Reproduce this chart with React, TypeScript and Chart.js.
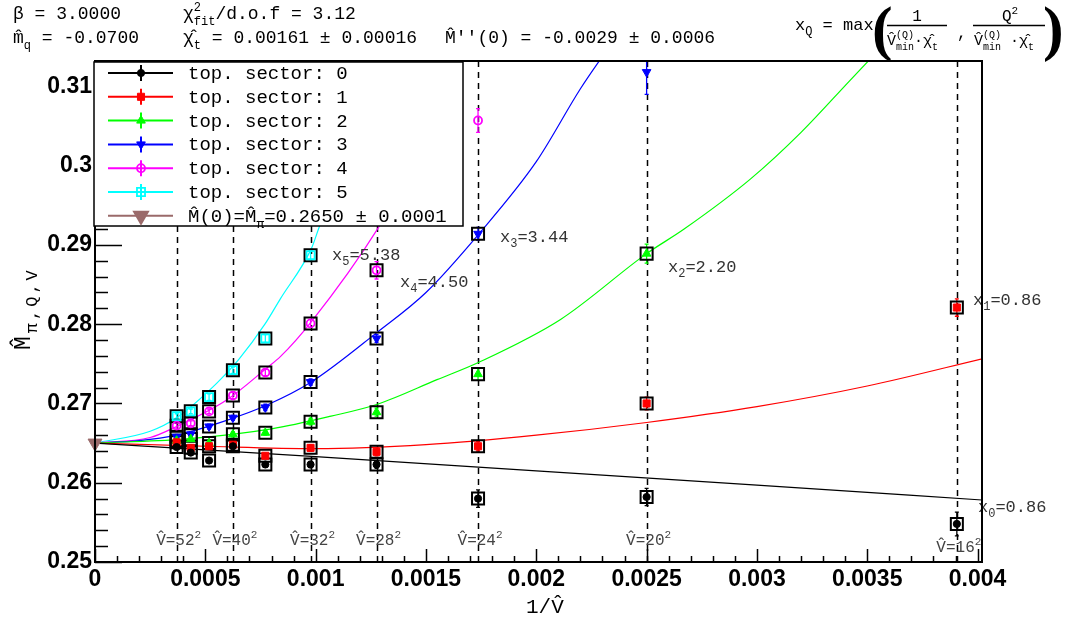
import React, { useEffect, useRef } from 'react';
import { Chart, registerables } from 'chart.js';
import { drawPoint } from 'chart.js/helpers';
Chart.register(...registerables);

// ---------------- data ----------------
const volumes = [52, 48, 44, 40, 36, 32, 28, 24, 20, 16];
const invVolume = [0.00037, 0.000434, 0.000517, 0.000625, 0.000772, 0.000977, 0.001276, 0.001736, 0.0025, 0.003906];
const dashedLabels = ['52', '40', '32', '28', '24', '20', '16'];
const dashedInvVolume = [0.00037, 0.000625, 0.000977, 0.001276, 0.001736, 0.0025, 0.003906];

const sector0 = [0.2645, 0.2638, 0.2628, 0.2646, 0.2623, 0.2623, 0.2623, 0.2580, 0.2582, 0.2548];
const sector1 = [0.2651, 0.2644, 0.2646, 0.2648, 0.2634, 0.2644, 0.2639, 0.2646, 0.2700, 0.2821];
const sector2 = [0.2653, 0.2655, 0.2650, 0.2661, 0.2663, 0.2677, 0.2689, 0.2737, 0.2889, null];
const sector3 = [0.2658, 0.2661, 0.2671, 0.2682, 0.2695, 0.2727, 0.2782, 0.2914, 0.3118, null];
const sector4 = [0.2672, 0.2675, 0.2690, 0.2710, 0.2739, 0.2801, 0.2868, 0.3057, null, null];
const sector5 = [0.2684, 0.2690, 0.2708, 0.2742, 0.2782, 0.2887, null, null, null, null];

const err0 = [0.0003, 0.0003, 0.0003, 0.0003, 0.0003, 0.0004, 0.0005, 0.0011, 0.0011, 0.0015];
const err1 = [0.0003, 0.0003, 0.0003, 0.0003, 0.0003, 0.0004, 0.0005, 0.0006, 0.0008, 0.0011];
const err2 = [0.0003, 0.0003, 0.0003, 0.0003, 0.0003, 0.0004, 0.0005, 0.0008, 0.0012, null];
const err3 = [0.0003, 0.0003, 0.0003, 0.0003, 0.0004, 0.0004, 0.0005, 0.0008, 0.0028, null];
const err4 = [0.0003, 0.0003, 0.0003, 0.0004, 0.0004, 0.0005, 0.0011, 0.0015, null, null];
const err5 = [0.0003, 0.0003, 0.0004, 0.0004, 0.0005, 0.0006, null, null, null, null];

const fit0 = [true, true, true, true, true, true, true, true, true, true];
const fit1 = [true, true, true, true, true, true, true, true, true, true];
const fit2 = [true, true, true, true, true, true, true, true, true, false];
const fit3 = [true, true, true, true, true, true, true, true, false, false];
const fit4 = [true, true, true, true, true, true, true, false, false, false];
const fit5 = [true, true, true, true, true, true, false, false, false, false];

const curve0X = [0, 0.001, 0.002, 0.003, 0.00403];
const curve0Y = [0.2650, 0.2633, 0.2615, 0.2597, 0.2578];
const curve1X = [0, 0.0005, 0.001, 0.0015, 0.002, 0.0025, 0.003, 0.0035, 0.00403];
const curve1Y = [0.2650, 0.2646, 0.2643, 0.2648, 0.2660, 0.2676, 0.2696, 0.2722, 0.2757];
const curve2X = [0, 0.0004, 0.0008, 0.00107, 0.00128, 0.00155, 0.00174, 0.00211, 0.0025, 0.00267, 0.00297, 0.0032, 0.00342, 0.0036];
const curve2Y = [0.2650, 0.2655, 0.2668, 0.2684, 0.2699, 0.2730, 0.2752, 0.2806, 0.2889, 0.2920, 0.2983, 0.3042, 0.3107, 0.3160];
const curve3X = [0, 0.0002, 0.00037, 0.0006, 0.00078, 0.00098, 0.00128, 0.0015, 0.00174, 0.002, 0.0022, 0.00233];
const curve3Y = [0.2650, 0.2653, 0.2660, 0.2679, 0.2698, 0.2727, 0.2790, 0.2840, 0.2914, 0.3005, 0.3097, 0.3150];
const curve4X = [0, 0.00025, 0.00037, 0.0006, 0.00078, 0.00084, 0.00098, 0.00128, 0.0015, 0.0017];
const curve4Y = [0.2650, 0.2657, 0.2671, 0.2705, 0.2745, 0.2759, 0.2803, 0.2920, 0.3030, 0.3152];
const curve5X = [0, 0.00025, 0.00037, 0.00055, 0.00065, 0.00077, 0.00084, 0.00098, 0.00102, 0.00115];
const curve5Y = [0.2650, 0.2665, 0.2682, 0.2725, 0.2755, 0.2800, 0.2832, 0.2895, 0.2925, 0.3000];

const massAtZero = 0.2650;

const xTicks = [0, 0.0005, 0.001, 0.0015, 0.002, 0.0025, 0.003, 0.0035, 0.004];
const xTickLabels = ['0', '0.0005', '0.001', '0.0015', '0.002', '0.0025', '0.003', '0.0035', '0.004'];
const yTicks = [0.25, 0.26, 0.27, 0.28, 0.29, 0.3, 0.31];
const yTickLabels = ['0.25', '0.26', '0.27', '0.28', '0.29', '0.3', '0.31'];

const legendLabels = ['top. sector: 0', 'top. sector: 1', 'top. sector: 2', 'top. sector: 3', 'top. sector: 4', 'top. sector: 5'];
const xQLabels = ['0.86', '0.86', '2.20', '3.44', '4.50', '5.38'];

// ---------------- styles ----------------
const MONO = '"Liberation Mono", "DejaVu Sans Mono", monospace';
const SANS = '"Liberation Sans", Arial, sans-serif';
const SERIF = '"Liberation Serif", "DejaVu Serif", serif';
const BROWN = '#9a6a6a';

const sectors = [
  { values: sector0, err: err0, fit: fit0, color: '#000000', style: 'circle', radius: 3.6, open: false, rotation: 0, curveX: curve0X, curveY: curve0Y },
  { values: sector1, err: err1, fit: fit1, color: '#ff0000', style: 'rect', radius: 5, open: false, rotation: 0, curveX: curve1X, curveY: curve1Y },
  { values: sector2, err: err2, fit: fit2, color: '#00ff00', style: 'triangle', radius: 5, open: false, rotation: 0, curveX: curve2X, curveY: curve2Y },
  { values: sector3, err: err3, fit: fit3, color: '#0000ff', style: 'triangle', radius: 5, open: false, rotation: 180, curveX: curve3X, curveY: curve3Y },
  { values: sector4, err: err4, fit: fit4, color: '#ff00ff', style: 'circle', radius: 4, open: true, rotation: 0, curveX: curve4X, curveY: curve4Y },
  { values: sector5, err: err5, fit: fit5, color: '#00ffff', style: 'rect', radius: 5.7, open: true, rotation: 0, curveX: curve5X, curveY: curve5Y },
];

type Seg = { t: string; sub?: string; sup?: string };

function drawRich(ctx: CanvasRenderingContext2D, x: number, y: number, segs: Seg[], size: number, color: string, align: 'left' | 'center' = 'left', family = MONO, subRatio = 0.68) {
  const main = `${size}px ${family}`;
  const small = `${Math.round(size * subRatio)}px ${family}`;
  let w = 0;
  for (const s of segs) {
    ctx.font = main;
    w += ctx.measureText(s.t).width;
    ctx.font = small;
    w += Math.max(s.sub ? ctx.measureText(s.sub).width : 0, s.sup ? ctx.measureText(s.sup).width : 0);
  }
  let cx = align === 'center' ? x - w / 2 : x;
  ctx.fillStyle = color;
  ctx.textBaseline = 'alphabetic';
  ctx.textAlign = 'left';
  for (const s of segs) {
    ctx.font = main;
    ctx.fillText(s.t, cx, y);
    cx += ctx.measureText(s.t).width;
    ctx.font = small;
    let adv = 0;
    if (s.sub) { ctx.fillText(s.sub, cx, y + size * 0.32); adv = Math.max(adv, ctx.measureText(s.sub).width); }
    if (s.sup) { ctx.fillText(s.sup, cx, y - size * 0.45); adv = Math.max(adv, ctx.measureText(s.sup).width); }
    cx += adv;
  }
  return w;
}

const decorations = {
  id: 'decorations',
  beforeDatasetsDraw(chart: any) {
    const { ctx, chartArea, scales } = chart;
    const { left, right, top, bottom } = chartArea;
    const x = scales.x, y = scales.y;
    ctx.save();
    // dashed vertical lines
    ctx.strokeStyle = '#000';
    ctx.lineWidth = 1.5;
    ctx.setLineDash([6, 5]);
    dashedInvVolume.forEach((v) => {
      const px = Math.round(x.getPixelForValue(v)) + 0.5;
      ctx.beginPath();
      ctx.moveTo(px, bottom);
      ctx.lineTo(px, top);
      ctx.stroke();
    });
    ctx.setLineDash([]);
    // error bars
    ctx.beginPath();
    ctx.rect(left, top, right - left, bottom - top);
    ctx.clip();
    sectors.forEach((s) => {
      ctx.strokeStyle = s.color;
      ctx.lineWidth = 1.3;
      s.values.forEach((v, i) => {
        if (v == null || s.err[i] == null) return;
        const px = x.getPixelForValue(invVolume[i]);
        const y1 = y.getPixelForValue(v - (s.err[i] as number));
        const y2 = y.getPixelForValue(v + (s.err[i] as number));
        ctx.beginPath();
        ctx.moveTo(px, y1);
        ctx.lineTo(px, y2);
        ctx.moveTo(px - 2, y1);
        ctx.lineTo(px + 2, y1);
        ctx.moveTo(px - 2, y2);
        ctx.lineTo(px + 2, y2);
        ctx.stroke();
      });
    });
    ctx.restore();
  },
  afterDatasetsDraw(chart: any) {
    const { ctx, chartArea, scales } = chart;
    const { left, right, top, bottom } = chartArea;
    const x = scales.x, y = scales.y;
    ctx.save();
    // V labels
    dashedInvVolume.forEach((v, i) => {
      const px = x.getPixelForValue(v);
      const base = i === dashedInvVolume.length - 1 ? 552 : 545;
      drawRich(ctx, px + 2, base, [{ t: 'V̂=' + dashedLabels[i], sup: '2' }], 16, '#444', 'center');
    });
    // x_Q labels
    const xqPos = [[978, 512], [973, 305], [668, 272], [500, 242], [400, 287], [332, 260]];
    xQLabels.forEach((lab, i) => {
      drawRich(ctx, xqPos[i][0], xqPos[i][1], [{ t: 'x', sub: String(i) }, { t: '=' + lab }], 17, '#333');
    });
    // ticks (inside)
    ctx.strokeStyle = '#000';
    ctx.lineWidth = 1.5;
    ctx.beginPath();
    for (let k = 0; k <= 31; k++) {
      const v = 0.25 + k * 0.002;
      if (v > y.max) break;
      const py = Math.round(y.getPixelForValue(v)) + 0.5;
      const len = k % 5 === 0 ? 27 : 13;
      ctx.moveTo(left, py);
      ctx.lineTo(left + len, py);
    }
    for (let k = 0; k <= 40; k++) {
      const v = k * 0.0001;
      const px = Math.round(x.getPixelForValue(v)) + 0.5;
      const len = k % 5 === 0 ? 13 : 6;
      ctx.moveTo(px, bottom);
      ctx.lineTo(px, bottom - len);
    }
    ctx.stroke();
    // frame
    ctx.lineWidth = 2;
    ctx.strokeRect(left, top, right - left, bottom - top);
    // legend
    const lx0 = 94, ly0 = 62, lx1 = 463, ly1 = 226;
    ctx.fillStyle = '#fff';
    ctx.fillRect(lx0, ly0, lx1 - lx0, ly1 - ly0);
    ctx.strokeStyle = '#000';
    ctx.lineWidth = 1.5;
    ctx.strokeRect(lx0, ly0, lx1 - lx0, ly1 - ly0);
    const rowH = 23.8;
    sectors.forEach((s, i) => {
      const cy = 73 + i * rowH;
      ctx.strokeStyle = s.color;
      ctx.lineWidth = 2;
      ctx.beginPath();
      ctx.moveTo(108, cy);
      ctx.lineTo(173, cy);
      ctx.moveTo(141, cy - 8);
      ctx.lineTo(141, cy + 8);
      ctx.stroke();
      ctx.fillStyle = s.open ? 'rgba(0,0,0,0)' : s.color;
      ctx.lineWidth = s.open ? 1.8 : 1;
      drawPoint(ctx, { pointStyle: s.style as any, radius: s.radius, rotation: s.rotation, borderWidth: s.open ? 1.8 : 1 } as any, 141, cy);
      drawRich(ctx, 188, cy + 6, [{ t: legendLabels[i] }], 19, '#000');
    });
    {
      const cy = 73 + 6 * rowH;
      ctx.strokeStyle = BROWN;
      ctx.lineWidth = 2;
      ctx.beginPath();
      ctx.moveTo(108, cy);
      ctx.lineTo(173, cy);
      ctx.stroke();
      ctx.fillStyle = BROWN;
      drawPoint(ctx, { pointStyle: 'triangle', radius: 8, rotation: 180, borderWidth: 1 } as any, 141, cy);
      drawRich(ctx, 188, cy + 6, [{ t: 'M̂(0)=M̂', sub: 'π' }, { t: '=0.2650 ± 0.0001' }], 19, '#000');
    }
    ctx.restore();
  },
  afterDraw(chart: any) {
    const { ctx } = chart;
    ctx.save();
    // header
    drawRich(ctx, 13, 19, [{ t: 'β = 3.0000' }], 18, '#000');
    drawRich(ctx, 13, 43, [{ t: 'm̂', sub: 'q' }, { t: ' = -0.0700' }], 18, '#000');
    drawRich(ctx, 183, 19, [{ t: 'χ', sup: '2', sub: 'fit' }, { t: '/d.o.f = 3.12' }], 18, '#000');
    drawRich(ctx, 183, 43, [{ t: 'χ̂', sub: 't' }, { t: ' = 0.00161 ± 0.00016' }], 18, '#000');
    drawRich(ctx, 445, 43, [{ t: "M̂''(0) = -0.0029 ± 0.0006" }], 18, '#000');
    // x_Q formula
    drawRich(ctx, 795, 30, [{ t: 'x', sub: 'Q' }, { t: ' = max' }], 17, '#000');
    ctx.fillStyle = '#000';
    ctx.font = `bold 62px ${SERIF}`;
    ctx.textAlign = 'left';
    ctx.fillText('(', 872, 49);
    ctx.fillText(')', 1043, 49);
    drawRich(ctx, 917, 21, [{ t: '1' }], 16, '#000', 'center');
    drawRich(ctx, 1010, 21, [{ t: 'Q', sup: '2' }], 16, '#000', 'center');
    ctx.strokeStyle = '#000';
    ctx.lineWidth = 1.5;
    ctx.beginPath();
    ctx.moveTo(887, 25.5);
    ctx.lineTo(947, 25.5);
    ctx.moveTo(973, 25.5);
    ctx.lineTo(1045, 25.5);
    ctx.stroke();
    drawRich(ctx, 887, 45, [{ t: 'V̂', sup: '(Q)', sub: 'min' }, { t: '·' }, { t: 'χ̂', sub: 't' }], 15, '#000');
    drawRich(ctx, 974, 45, [{ t: 'V̂', sup: '(Q)', sub: 'min' }, { t: ' ·' }, { t: 'χ̂', sub: 't' }], 15, '#000');
    drawRich(ctx, 957, 38, [{ t: ',' }], 16, '#000');
    // axis titles
    drawRich(ctx, 526, 613, [{ t: '1/V̂' }], 21, '#000');
    ctx.translate(30, 350);
    ctx.rotate(-Math.PI / 2);
    (ctx as any).letterSpacing = '3px';
    drawRich(ctx, 0, 0, [{ t: 'M̂', sub: 'π,Q,V' }], 23, '#000', 'left', MONO, 0.75);
    (ctx as any).letterSpacing = '0px';
    ctx.restore();
  },
};

function pts(values: (number | null)[], keep?: (boolean)[]) {
  const out: { x: number; y: number }[] = [];
  values.forEach((v, i) => {
    if (v == null) return;
    if (keep && !keep[i]) return;
    out.push({ x: invVolume[i], y: v });
  });
  return out;
}

export default function App() {
  const ref = useRef<HTMLCanvasElement | null>(null);
  useEffect(() => {
    if (!ref.current) return;
    const datasets: any[] = [];
    // boxes around fitted points
    sectors.forEach((s) => {
      datasets.push({
        data: pts(s.values, s.fit),
        showLine: false,
        pointStyle: 'rect',
        pointRadius: 8.5,
        pointBackgroundColor: 'rgba(0,0,0,0)',
        pointBorderColor: '#000',
        pointBorderWidth: 2,
        order: 2,
      });
    });
    // markers
    sectors.forEach((s) => {
      datasets.push({
        data: pts(s.values),
        showLine: false,
        pointStyle: s.style,
        pointRotation: s.rotation,
        pointRadius: s.radius,
        pointBackgroundColor: s.open ? 'rgba(0,0,0,0)' : s.color,
        pointBorderColor: s.color,
        pointBorderWidth: s.open ? 1.8 : 1,
        order: 1,
      });
    });
    // fit curves
    sectors.forEach((s) => {
      datasets.push({
        data: s.curveX.map((cx, i) => ({ x: cx, y: s.curveY[i] })),
        showLine: true,
        borderColor: s.color,
        borderWidth: 1.2,
        pointRadius: 0,
        cubicInterpolationMode: 'monotone',
        fill: false,
        order: 5,
      });
    });
    datasets.push({
      data: [{ x: 0, y: massAtZero }],
      showLine: false,
      pointStyle: 'triangle',
      pointRotation: 180,
      pointRadius: 8,
      pointBackgroundColor: BROWN,
      pointBorderColor: BROWN,
      clip: false,
      order: 0,
    });

    const chart = new Chart(ref.current, {
      type: 'scatter',
      data: { datasets },
      options: {
        animation: false,
        responsive: false,
        devicePixelRatio: 1,
        layout: { padding: { left: 0, top: 61, right: 84, bottom: 0 } },
        plugins: { legend: { display: false }, tooltip: { enabled: false } },
        scales: {
          x: {
            type: 'linear',
            min: 0,
            max: 0.00402,
            grid: { display: false, drawTicks: false },
            border: { display: false },
            ticks: {
              color: '#000',
              font: { family: SANS, size: 23, weight: 'bold' },
              padding: 4,
              maxRotation: 0,
              autoSkip: false,
              callback: (_v: any, i: number) => xTickLabels[i],
            },
            afterBuildTicks: (s: any) => { s.ticks = xTicks.map((v) => ({ value: v })); },
            afterFit: (s: any) => { s.height = 59; },
          },
          y: {
            type: 'linear',
            min: 0.25,
            max: 0.3132,
            grid: { display: false, drawTicks: false },
            border: { display: false },
            ticks: {
              color: '#000',
              font: { family: SANS, size: 23, weight: 'bold' },
              padding: 3,
              autoSkip: false,
              callback: (_v: any, i: number) => yTickLabels[i],
            },
            afterBuildTicks: (s: any) => { s.ticks = yTicks.map((v) => ({ value: v })); },
            afterFit: (s: any) => { s.width = 95; },
          },
        },
      } as any,
      plugins: [decorations],
    });
    return () => chart.destroy();
  }, []);
  return (
    <div style={{ position: 'fixed', left: 0, top: 0, width: 1066, height: 621, background: '#fff' }}>
      <canvas ref={ref} width={1066} height={621} style={{ width: 1066, height: 621, display: 'block' }} />
    </div>
  );
}
